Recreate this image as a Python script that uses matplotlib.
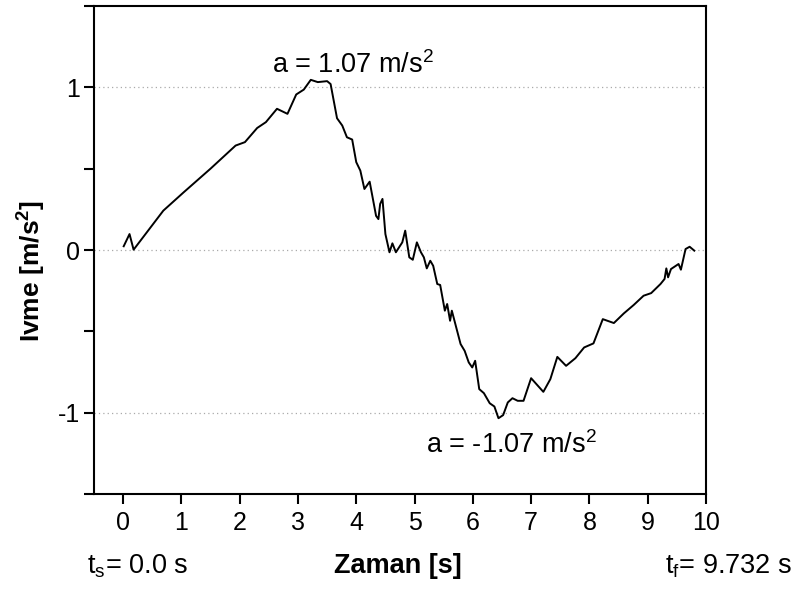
import matplotlib
matplotlib.use("Agg")
import matplotlib.pyplot as plt
from matplotlib.ticker import MultipleLocator

plt.rcParams['font.family'] = ['Liberation Sans', 'DejaVu Sans']
plt.rcParams['mathtext.fontset'] = 'custom'
plt.rcParams['mathtext.rm'] = 'Liberation Sans'
plt.rcParams['mathtext.bf'] = 'Liberation Sans:bold'
plt.rcParams['axes.unicode_minus'] = False

# ---------------- DATA ----------------
zaman = [0.01, 0.11, 0.18, 0.69, 1.04, 1.50, 1.93, 2.09, 2.30, 2.45,
         2.64, 2.82, 2.97, 3.10, 3.22, 3.34, 3.50, 3.56, 3.67, 3.76,
         3.84, 3.93, 4.00, 4.07, 4.14, 4.23, 4.34, 4.38, 4.41, 4.45,
         4.50, 4.57, 4.62, 4.68, 4.79, 4.84, 4.91, 4.97, 5.04, 5.11,
         5.16, 5.21, 5.27, 5.32, 5.39, 5.44, 5.52, 5.56, 5.61, 5.64,
         5.79, 5.86, 5.93, 5.99, 6.04, 6.11, 6.19, 6.29, 6.37, 6.44,
         6.52, 6.60, 6.68, 6.77, 6.87, 7.00, 7.21, 7.33, 7.45, 7.60,
         7.76, 7.91, 8.07, 8.23, 8.42, 8.59, 8.76, 8.93, 9.06, 9.22,
         9.29, 9.32, 9.35, 9.40, 9.53, 9.57, 9.65, 9.72, 9.80]
ivme = [0.023, 0.098, 0.002, 0.242, 0.355, 0.50, 0.642, 0.663, 0.75, 0.786,
        0.868, 0.837, 0.956, 0.986, 1.046, 1.032, 1.038, 1.02, 0.81, 0.765,
        0.693, 0.679, 0.54, 0.488, 0.375, 0.42, 0.21, 0.19, 0.283, 0.314,
        0.098, -0.014, 0.041, -0.014, 0.047, 0.119, -0.045, -0.06, 0.047, -0.014,
        -0.045, -0.113, -0.066, -0.097, -0.209, -0.215, -0.373, -0.332, -0.435, -0.373,
        -0.578, -0.62, -0.691, -0.722, -0.681, -0.855, -0.88, -0.942, -0.962, -1.034,
        -1.015, -0.937, -0.911, -0.927, -0.927, -0.788, -0.872, -0.794, -0.657, -0.712,
        -0.665, -0.599, -0.574, -0.425, -0.449, -0.39, -0.338, -0.281, -0.265, -0.209,
        -0.178, -0.113, -0.168, -0.117, -0.086, -0.121, 0.006, 0.02, -0.004]

x_ticks = [0, 1, 2, 3, 4, 5, 6, 7, 8, 9, 10]
y_ticks = [-1, 0, 1]

# ---------------- PLOT ----------------
fig = plt.figure(figsize=(7.95, 5.92), dpi=100)
ax = fig.add_axes([0.1182, 0.1655, 0.7698, 0.8244])

for yv in y_ticks:
    ax.axhline(yv, color='#aaaaaa', linestyle=(0, (1, 2.5)), linewidth=0.9, zorder=0)

ax.plot(zaman, ivme, color='black', linewidth=1.4)

ax.set_xlim(-0.5, 10)
ax.set_ylim(-1.5, 1.5)
ax.set_xticks(x_ticks)
ax.set_yticks(y_ticks)
ax.yaxis.set_minor_locator(MultipleLocator(0.5))

for sp in ax.spines.values():
    sp.set_linewidth(1.5)
ax.tick_params(which='both', direction='out', length=7, width=1.5, labelsize=18)
ax.tick_params(axis='x', pad=5)
ax.tick_params(axis='y', pad=3)

ax.text(2.56, 1.089, "a = 1.07 m/s$^2$", fontsize=19.5, ha='left', va='baseline')
ax.text(5.19, -1.25, "a = -1.07 m/s$^2$", fontsize=19.5, ha='left', va='baseline')

fig.text(0.038, 0.542, r"Ivme [m/s$^{\mathbf{2}}$]", fontsize=19, fontweight='bold',
         rotation=90, ha='center', va='center')
fig.text(0.50, 0.032, "Zaman [s]", fontsize=19.5, fontweight='bold', ha='center', va='baseline')
fig.text(0.11, 0.032, r"t$_\mathrm{s}$= 0.0 s", fontsize=19.5, ha='left', va='baseline')
fig.text(0.997, 0.032, r"t$_\mathrm{f}$= 9.732 s", fontsize=19.5, ha='right', va='baseline')

fig.savefig("out.png", dpi=100)
